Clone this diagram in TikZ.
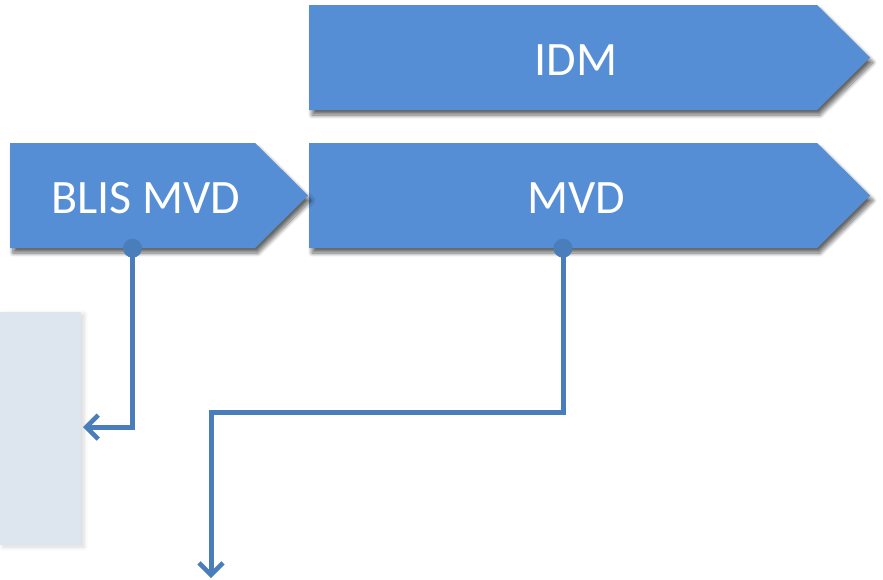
\documentclass[tikz,border=0pt]{standalone}
\usepackage{fontspec}
\setmainfont{Carlito}
\usetikzlibrary{arrows.meta,shadows.blur}
\definecolor{chevfill}{HTML}{558ED5}
\definecolor{linecol}{HTML}{4A7EBB}
\definecolor{palefill}{HTML}{DDE5EE}
\tikzset{
  chev/.style={fill=chevfill, blur shadow={shadow xshift=3pt, shadow yshift=-5pt, shadow blur steps=8, shadow opacity=60, shadow blur radius=4pt}},
  pale/.style={fill=palefill, blur shadow={shadow xshift=3pt, shadow yshift=-2pt, shadow blur steps=6, shadow opacity=15, shadow blur radius=4pt}},
  body/.style={draw=none, inner sep=0pt, minimum height=105pt},
  lbl/.style={text=white, font=\fontsize{48}{52}\selectfont, inner sep=0pt},
  conn/.style={draw=linecol, line width=5pt, -{Straight Barb[length=12pt,width=24pt,line width=4.6pt]}},
  dot/.style={fill=linecol}
}
\begin{document}
\begin{tikzpicture}[x=1pt,y=-1pt]
\useasboundingbox (0,0) rectangle (883,579);
% pale box
\path[pale] (0,312) rectangle (81,545);
% chevrons
\path[chev] (309,5) -- (817,5) -- (870,57.5) -- (817,110) -- (309,110) -- cycle;
\path[chev] (309,143) -- (817,143) -- (870,195.5) -- (817,248) -- (309,248) -- cycle;
\path[chev] (10,143) -- (255,143) -- (308,195.5) -- (255,248) -- (10,248) -- cycle;
% body nodes
\node[body, minimum width=508pt] (idm) at (563,57.5) {};
\node[body, minimum width=508pt] (mvd) at (563,195.5) {};
\node[body, minimum width=245pt] (blis) at (132.5,195.5) {};
% labels
\node[lbl] (idmtext) at (576,60) {IDM};
\node[lbl] (mvdtext) at (576,198) {MVD};
\node[lbl] (blistext) at (146,198) {BLIS MVD};
% connector ends
\coordinate (blisend) at (83,427);
\coordinate (mvdturn) at (211,412);
\coordinate (mvdend) at (211,578);
% connectors
\draw[conn] (blis.south) |- (blisend);
\draw[conn] (mvd.south) |- (mvdturn) -- (mvdend);
\fill[dot] (blis.south) circle (9.5pt);
\fill[dot] (mvd.south) circle (9.5pt);
\end{tikzpicture}
\end{document}
